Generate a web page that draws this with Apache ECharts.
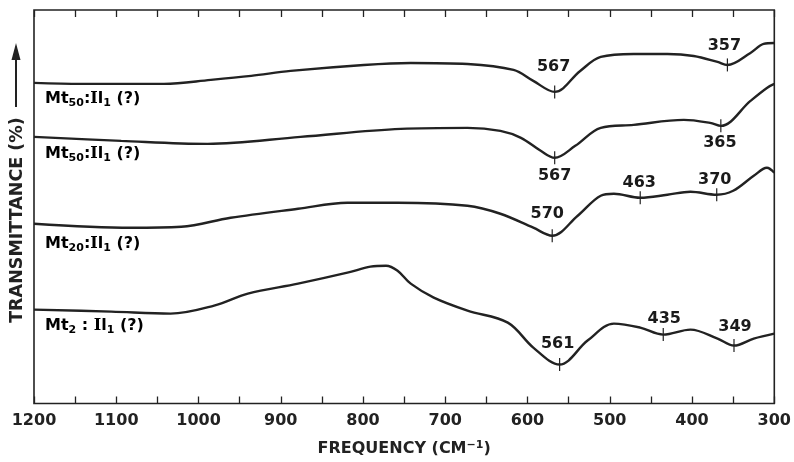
<!DOCTYPE html>
<html>
<head>
<meta charset="utf-8">
<script src="https://cdn.jsdelivr.net/npm/echarts@6/dist/echarts.min.js"></script>
<style>
html,body{margin:0;padding:0;background:#fff;}
#chart{width:794px;height:462px;}
</style>
</head>
<body>
<div id="chart"></div>
<script>
// ---- Data (frequency in cm^-1, transmittance in arbitrary offset units) ----
const xTicks = [1200, 1100, 1000, 900, 800, 700, 600, 500, 400, 300];

const freq1  = [1200,1143,1042,985,936,888,799,742,673,617,593,567,536,511,471,430,398,369,357,329,313,300];
const trans1 = [321,320,320,324,328,333,339,341,340,334,323,312,333,347,350,350,348,342,339,351,360,361];

const freq2  = [1200,1094,989,876,754,673,633,608,584,567,542,511,471,410,378,365,329,309,300];
const trans2 = [267,263,260,267,275,276,273,266,253,246,258,276,279,284,281,278,303,316,320];

const freq3  = [1200,1082,1021,961,879,819,758,673,633,593,570,539,511,495,463,430,402,370,350,325,309,300];
const trans3 = [180,176,177,186,195,201,201,198,190,176,168,188,208,210,206,209,212,209,213,228,236,231];

const freq4  = [1200,1106,1034,981,940,879,819,791,772,758,742,714,673,624,593,561,527,495,463,435,402,369,349,325,300];
const trans4 = [94,92,90,98,110,120,131,137,138,133,120,106,93,81,56,39,63,80,76,69,74,65,58,65,70];

const peaks1 = [567, 357];      const peakVals1 = [312, 339];
const peaks2 = [567, 365];      const peakVals2 = [246, 278];
const peaks3 = [570, 463, 370]; const peakVals3 = [168, 206, 209];
const peaks4 = [561, 435, 349]; const peakVals4 = [39, 69, 58];

const curveNames = ['50', '50', '20', '2'];

// ---- label placement (styling) ----
const peakOffsets = [
  [[-1,-25],[-3,-19]],
  [[0,18],[-1,17]],
  [[-5,-22],[-1,-15],[-2,-15]],
  [[-2,-21],[1,-16],[1,-19]]
];
const nameLabelTops = [91, 146, 236, 318];
const nameSep = [':', ':', ':', ' : '];

const INK = '#222222';
const FONT = 'DejaVu Sans';

function zip(a, b){ return a.map((v,i)=>[v, b[i]]); }

const freqs = [freq1,freq2,freq3,freq4];
const trans = [trans1,trans2,trans3,trans4];
const peaks = [peaks1,peaks2,peaks3,peaks4];
const peakVals = [peakVals1,peakVals2,peakVals3,peakVals4];

const series = [];
for (let k = 0; k < 4; k++) {
  series.push({
    type: 'line',
    data: zip(freqs[k], trans[k]),
    smooth: 0.35,
    showSymbol: false,
    symbol: 'none',
    lineStyle: { color: INK, width: 2.4 },
    silent: true,
    z: 3
  });
  series.push({
    type: 'scatter',
    data: peaks[k].map((p,i)=>({
      value: [p, peakVals[k][i]],
      label: { offset: peakOffsets[k][i] }
    })),
    symbol: 'rect',
    symbolSize: [1.2, 13],
    itemStyle: { color: INK, opacity: 1 },
    label: {
      show: true,
      position: 'inside',
      formatter: p => String(p.value[0]),
      color: '#1a1a1a',
      textBorderWidth: 0,
      textBorderColor: 'transparent',
      fontFamily: FONT,
      fontSize: 16,
      fontWeight: 'bold'
    },
    silent: true,
    z: 4
  });
}

const richName = {
  m: { fontFamily: FONT, fontSize: 16, fontWeight: 'bold', color: INK },
  s: { fontFamily: FONT, fontSize: 11, fontWeight: 'bold', color: INK, padding: [9,0,0,0] },
  i: { fontFamily: 'DejaVu Serif', fontSize: 16, fontWeight: 'bold', color: INK }
};

const graphic = [];
curveNames.forEach((n, k) => {
  graphic.push({
    type: 'text',
    left: 45,
    top: nameLabelTops[k],
    style: {
      text: '{m|Mt}{s|' + n + '}{m|' + nameSep[k] + '}{i|I}{m|l}{s|1}{m| (?)}',
      rich: richName
    },
    z: 10
  });
});
graphic.push({
  type: 'text',
  x: 17, y: 220,
  rotation: Math.PI / 2,
  style: {
    text: 'TRANSMITTANCE (%)',
    fontFamily: FONT, fontSize: 17.5, fontWeight: 'bold', fill: INK,
    align: 'center', verticalAlign: 'middle'
  }
});
graphic.push({
  type: 'line',
  shape: { x1: 16, y1: 107, x2: 16, y2: 56 },
  style: { stroke: INK, lineWidth: 2 }
});
graphic.push({
  type: 'polygon',
  shape: { points: [[11.5,60],[20.5,60],[16,43]] },
  style: { fill: INK }
});

const baseX = {
  type: 'value',
  min: 300, max: 1200, interval: 50, inverse: true,
  splitLine: { show: false },
  axisLine: { show: false },
  axisTick: { show: true, inside: true, length: 7, lineStyle: { color: INK, width: 1.3 } }
};

const option = {
  backgroundColor: '#ffffff',
  animation: false,
  grid: { left: 34, right: 19, top: 10, bottom: 58, show: true, borderColor: INK, borderWidth: 1.6, backgroundColor: 'transparent' },
  xAxis: [
    Object.assign({}, baseX, {
      position: 'bottom',
      axisLabel: {
        show: true, margin: 9,
        formatter: v => (xTicks.indexOf(v) >= 0 ? String(v) : ''),
        color: INK, fontFamily: FONT, fontSize: 16, fontWeight: 'bold'
      },
      name: '{m|FREQUENCY (CM}{sup|−1}{m|)}',
      nameLocation: 'middle',
      nameGap: 36,
      nameTextStyle: {
        rich: {
          m: { fontFamily: FONT, fontSize: 16, fontWeight: 'bold', color: INK },
          sup: { fontFamily: FONT, fontSize: 11, fontWeight: 'bold', color: INK, padding: [0,0,8,0] }
        }
      }
    }),
    Object.assign({}, baseX, {
      position: 'top',
      axisLabel: { show: false }
    })
  ],
  yAxis: {
    type: 'value', min: 0, max: 394,
    show: true,
    axisLine: { show: false }, axisTick: { show: false }, axisLabel: { show: false },
    splitLine: { show: false }
  },
  graphic: graphic,
  series: series
};

const chart = echarts.init(document.getElementById('chart'), null, { renderer: 'canvas' });
chart.setOption(option);
</script>
</body>
</html>
